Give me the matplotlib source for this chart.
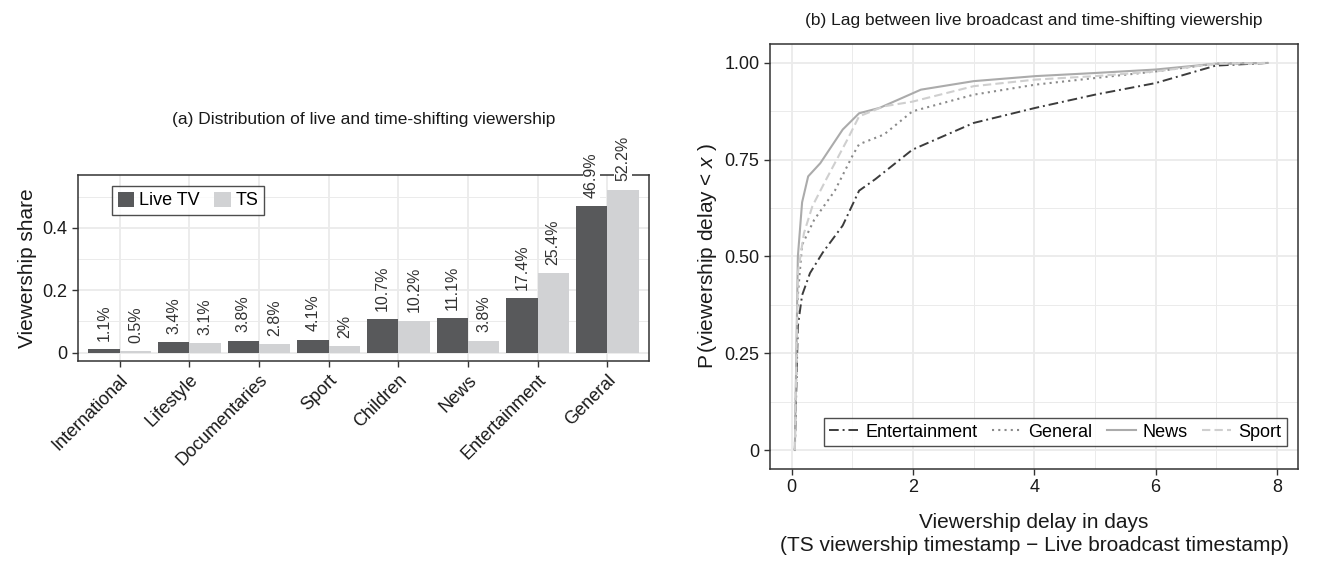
import numpy as np
import matplotlib
matplotlib.use("Agg")
import matplotlib.pyplot as plt
from matplotlib.ticker import MultipleLocator, FixedLocator

plt.rcParams['font.family'] = ['Liberation Sans', 'DejaVu Sans']
plt.rcParams['mathtext.fontset'] = 'custom'
plt.rcParams['mathtext.it'] = 'Liberation Sans:italic'
plt.rcParams['mathtext.rm'] = 'Liberation Sans'

# (a) viewership share per genre
genres = ["International", "Lifestyle", "Documentaries", "Sport",
          "Children", "News", "Entertainment", "General"]
live_share = [0.011, 0.034, 0.038, 0.041, 0.107, 0.111, 0.174, 0.469]
ts_share = [0.005, 0.031, 0.028, 0.020, 0.102, 0.038, 0.254, 0.522]
live_labels = ["1.1%", "3.4%", "3.8%", "4.1%", "10.7%", "11.1%", "17.4%", "46.9%"]
ts_labels = ["0.5%", "3.1%", "2.8%", "2%", "10.2%", "3.8%", "25.4%", "52.2%"]

# (b) ECDF of viewing delay (days)
ent_x = [0.05, 0.1, 0.17, 0.30, 0.51, 0.84, 1.11, 1.38, 1.99, 3.0, 4.02, 5.0, 6.0, 6.99, 7.85]
ent_y = [0.0, 0.32, 0.40, 0.457, 0.51, 0.58, 0.67, 0.70, 0.776, 0.845, 0.884, 0.918, 0.948, 0.993, 1.0]
gen_x = [0.05, 0.1, 0.17, 0.37, 0.71, 1.01, 1.11, 1.52, 1.99, 3.0, 4.02, 5.0, 6.0, 6.99, 7.85]
gen_y = [0.0, 0.40, 0.53, 0.595, 0.67, 0.763, 0.79, 0.815, 0.875, 0.918, 0.944, 0.961, 0.978, 0.998, 1.0]
news_x = [0.05, 0.1, 0.17, 0.27, 0.47, 0.84, 1.11, 1.45, 2.13, 3.0, 4.02, 5.0, 6.0, 6.99, 7.85]
news_y = [0.0, 0.50, 0.64, 0.707, 0.741, 0.828, 0.87, 0.884, 0.931, 0.953, 0.966, 0.974, 0.983, 0.998, 1.0]
sport_x = [0.05, 0.1, 0.2, 0.34, 0.57, 0.91, 1.11, 1.52, 1.99, 3.0, 4.02, 5.0, 6.0, 6.99, 7.85]
sport_y = [0.0, 0.457, 0.56, 0.63, 0.70, 0.80, 0.862, 0.888, 0.90, 0.94, 0.957, 0.966, 0.978, 0.998, 1.0]

live_col = "#58595b"
ts_col = "#d1d2d4"
grid_col = "#ebebeb"


def style_axes(ax):
    ax.set_facecolor("white")
    for s in ax.spines.values():
        s.set_color("#333333")
        s.set_linewidth(1.1)
    ax.grid(True, which="major", color=grid_col, linewidth=1.3, zorder=0)
    ax.grid(True, which="minor", color=grid_col, linewidth=0.7, zorder=0)
    ax.set_axisbelow(True)
    ax.tick_params(which="major", direction="out", length=4, width=1, color="#333333",
                   labelsize=13, labelcolor="#1a1a1a")
    ax.tick_params(which="minor", length=0)


fig = plt.figure(figsize=(13.28, 5.61), dpi=100)

# ---- left panel
ax1 = fig.add_axes([0.0587, 0.3565, 0.43, 0.3315])
style_axes(ax1)
x = np.arange(len(genres))
w = 0.45
ax1.bar(x - w / 2, live_share, w, color=live_col, label="Live TV", zorder=2)
ax1.bar(x + w / 2, ts_share, w, color=ts_col, label="TS", zorder=2)
for i in range(len(genres)):
    for dx, v, lab in [(-w / 2, live_share[i], live_labels[i]), (w / 2, ts_share[i], ts_labels[i])]:
        bb = dict(facecolor="white", edgecolor="none", pad=1) if v > 0.4 else None
        ax1.annotate(lab, (x[i] + dx, v), xytext=(0, 6), textcoords="offset points",
                     rotation=90, ha="center", va="bottom", fontsize=11.5,
                     color="#333333", annotation_clip=False, bbox=bb, zorder=5)
ax1.set_xlim(-0.6, 7.6)
ax1.set_ylim(-0.027, 0.569)
ax1.set_xticks(x)
ax1.set_xticklabels(genres, rotation=45, ha="right", rotation_mode="anchor")
ax1.yaxis.set_major_locator(FixedLocator([0, 0.2, 0.4]))
ax1.yaxis.set_minor_locator(FixedLocator([0.1, 0.3, 0.5]))
ax1.set_yticklabels(["0", "0.2", "0.4"])
ax1.set_ylabel("Viewership share", fontsize=15, color="#1a1a1a")
ax1.set_title("(a) Distribution of live and time-shifting viewership", fontsize=12.5,
              pad=37, color="#1a1a1a")
leg1 = ax1.legend(loc="upper left", bbox_to_anchor=(0.06, 0.94), ncol=2, fontsize=13,
                  frameon=True, fancybox=False, edgecolor="#222222", handlelength=0.9,
                  handleheight=0.9, handletextpad=0.3, columnspacing=0.8, borderpad=0.3,
                  borderaxespad=0)
leg1.get_frame().set_linewidth(1.0)

# ---- right panel
ax2 = fig.add_axes([0.5798, 0.164, 0.3976, 0.7576])
style_axes(ax2)
ax2.plot(ent_x, ent_y, color="#3c3c3c", linestyle=(0, (5, 2, 1, 2)), linewidth=1.4,
         label="Entertainment", zorder=3)
ax2.plot(gen_x, gen_y, color="#8a8a8a", linestyle=(0, (1, 2)), linewidth=1.5,
         label="General", zorder=3)
ax2.plot(news_x, news_y, color="#ababab", linestyle="-", linewidth=1.5,
         label="News", zorder=3)
ax2.plot(sport_x, sport_y, color="#cfcfcf", linestyle=(0, (4, 2)), linewidth=1.5,
         label="Sport", zorder=3)
ax2.set_xlim(-0.36, 8.35)
ax2.set_ylim(-0.049, 1.049)
ax2.xaxis.set_major_locator(MultipleLocator(2))
ax2.xaxis.set_minor_locator(MultipleLocator(1))
ax2.yaxis.set_major_locator(FixedLocator([0, 0.25, 0.5, 0.75, 1.0]))
ax2.yaxis.set_minor_locator(FixedLocator([0.125, 0.375, 0.625, 0.875]))
ax2.set_yticklabels(["0", "0.25", "0.50", "0.75", "1.00"])
ax2.set_ylabel(r"P$\,$(viewership delay < $x$ )", fontsize=15, color="#1a1a1a")
ax2.set_xlabel("Viewership delay in days\n(TS viewership timestamp \u2212 Live broadcast timestamp)",
               fontsize=15, color="#1a1a1a", linespacing=1.25, labelpad=12)
ax2.set_title("(b) Lag between live broadcast and time-shifting viewership", fontsize=12.5,
              pad=14, color="#1a1a1a")
leg2 = ax2.legend(loc="lower right", bbox_to_anchor=(0.979, 0.054), ncol=4, fontsize=13,
                  frameon=True, fancybox=False, edgecolor="#222222", handlelength=1.6,
                  handletextpad=0.4, columnspacing=0.8, borderpad=0.3, borderaxespad=0)
leg2.get_frame().set_linewidth(1.0)

fig.savefig("out.png", dpi=100, facecolor="white")
